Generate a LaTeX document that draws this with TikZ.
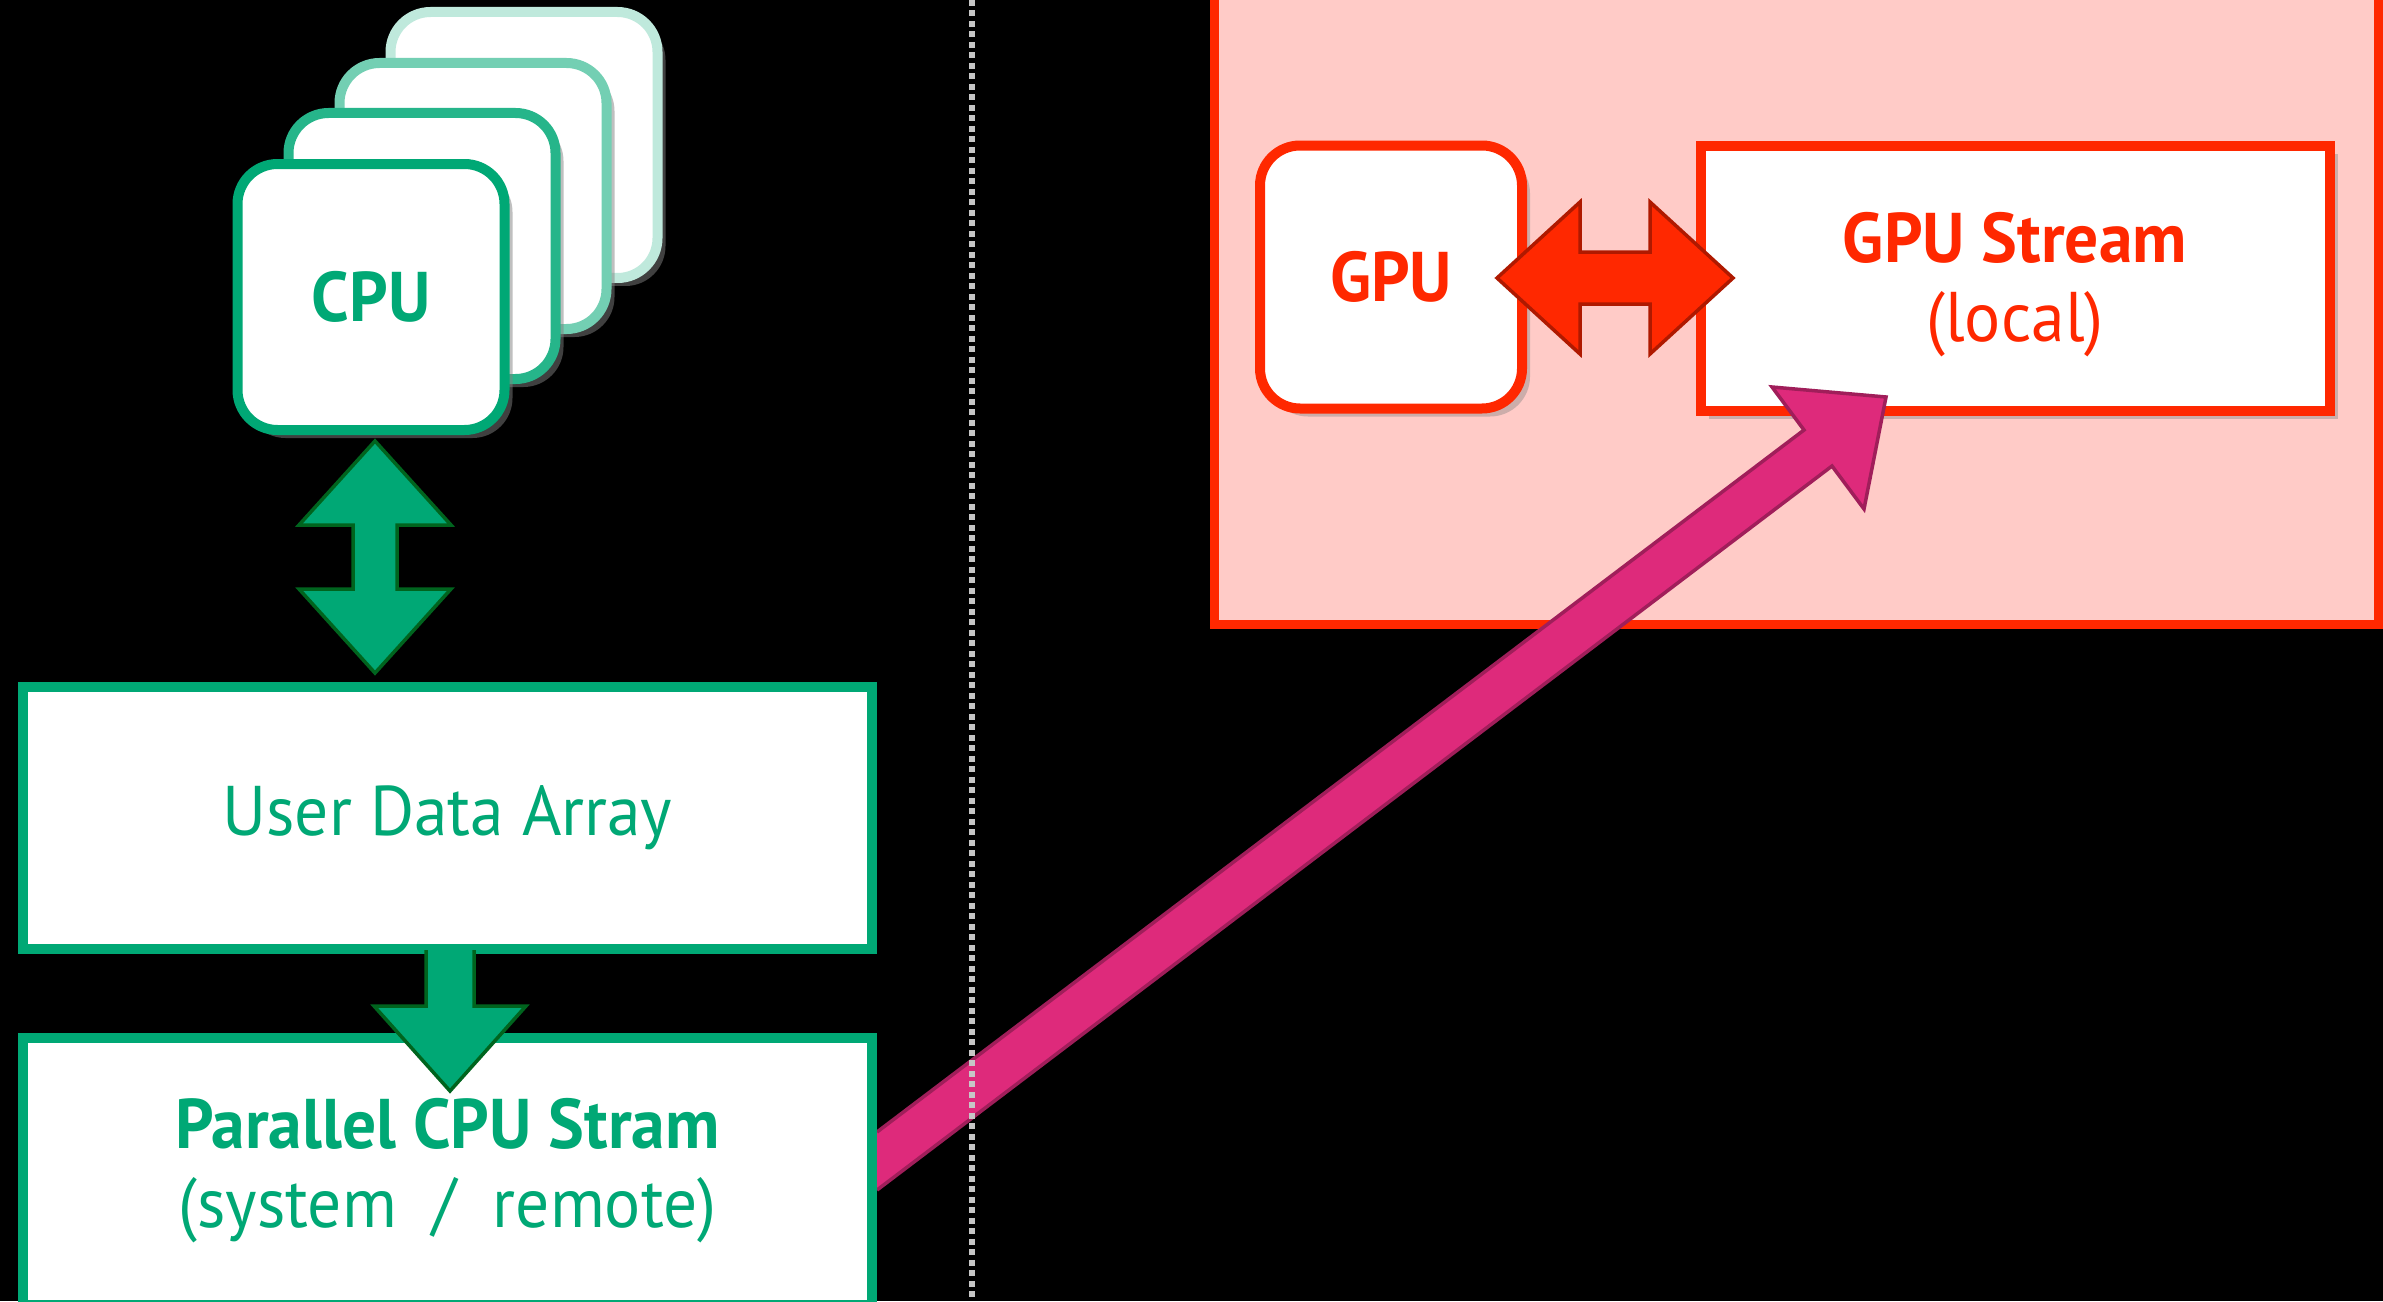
\documentclass[tikz,border=0pt]{standalone}
\usepackage{fontspec}
\setsansfont[FakeStretch=0.96]{PT Sans}
\renewcommand{\familydefault}{\sfdefault}
\usepackage{tikz}
\usetikzlibrary{positioning,calc,shadows}

\definecolor{cpugreen}{RGB}{0,168,117}
\definecolor{arrowgreen}{RGB}{0,100,30}
\definecolor{gpured}{RGB}{255,40,0}
\definecolor{reddark}{RGB}{175,25,0}
\definecolor{zonepink}{RGB}{255,203,199}
\definecolor{streampink}{RGB}{222,42,123}
\definecolor{streamedge}{RGB}{160,30,90}

\pgfdeclarelayer{back}
\pgfdeclarelayer{front}
\pgfsetlayers{back,main,front}

\begin{document}
\begin{tikzpicture}[
  x=0.1mm, y=-0.1mm,
  font=\fontsize{20}{22.5}\selectfont,
  cpubox/.style={draw=cpugreen, line width=1mm, fill=white, rounded corners=4mm,
                 minimum width=26.7mm, minimum height=26.6mm, text=cpugreen, font=\fontsize{20}{22.5}\selectfont\bfseries,
                 drop shadow={opacity=0.5, shadow xshift=0.8mm, shadow yshift=-0.8mm}},
  databox/.style={draw=cpugreen, line width=1mm, fill=white, minimum width=84.9mm,
                  minimum height=26.2mm, text=cpugreen, align=center},
  gpubox/.style={draw=gpured, line width=1mm, fill=white, text=gpured, align=center,
                 drop shadow={opacity=0.4, shadow xshift=0.8mm, shadow yshift=-0.8mm}},
  zone/.style={draw=gpured, line width=0.9mm, fill=zonepink, minimum width=116.4mm, minimum height=65.5mm},
  gblock/.style={fill=cpugreen, draw=arrowgreen, line width=0.35mm, line join=miter},
  rblock/.style={fill=gpured, draw=reddark, line width=0.35mm, line join=miter},
  pblock/.style={fill=streampink, draw=streamedge, line width=0.35mm, line join=miter},
  divider/.style={draw=gray!45, line width=0.55mm, dash pattern=on 0.6mm off 0.45mm},
]
\useasboundingbox (0,0) rectangle (2383,1301);
\begin{pgfonlayer}{back}
  \fill[black] (0,0) rectangle (2383,1301);
\end{pgfonlayer}

% host side
\begin{pgfonlayer}{front}
\node[cpubox, draw=cpugreen!25] (cpuD) at (524,145) {};
\node[cpubox, draw=cpugreen!55] (cpuC) at (473,196) {};
\node[cpubox, draw=cpugreen!85] (cpuB) at (422,246) {};
\node[cpubox] (cpu) at (371,297) {CPU};
\node[databox] (uda) at (447.5,818) {User Data Array};
\node[databox, minimum height=26.7mm] (par) at (447.5,1171) {\textbf{Parallel CPU Stram}\\(system\ \ /\ \ remote)};

\draw[gblock] ($(cpu.south)+(4,6)$) -- ++(76,84) -- ++(-54,0) -- ++(0,64) -- ++(54,0) -- ++(-76,84)
  -- ++(-76,-84) -- ++(54,0) -- ++(0,-64) -- ++(-54,0) -- cycle;
\draw[gblock] ($(uda.south)+(-21.5,-4)$) -- ++(0,56) -- ++(-52,0) -- ++(76,85) -- ++(76,-85) -- ++(-52,0) -- ++(0,-56);

\coordinate (divtop) at (972,0);
\coordinate (divbot) at (972,1301);
\draw[divider] (divtop) -- (divbot);
\end{pgfonlayer}

% device side
\node[zone] (gpuzone) at (1796.5,297) {};
\node[gpubox, rounded corners=4mm, minimum width=26.2mm, minimum height=26.3mm, font=\fontsize{20}{22.5}\selectfont\bfseries] (gpu) at (1391,277) {GPU};
\node[gpubox, minimum width=62.9mm, minimum height=26.5mm, text depth=0.3mm] (gstream) at (2015,278.5) {\textbf{GPU Stream}\\(local)};

\draw[rblock] ($(gpu.east)+(-30,1)$) -- ++(83,-76) -- ++(0,50) -- ++(70,0) -- ++(0,-50) -- ++(83,76)
  -- ++(-83,76) -- ++(0,-50) -- ++(-70,0) -- ++(0,50) -- cycle;

\draw[pblock] ($(par.east)+(0,-39)$) -- ++(927,-702) -- ++(-32,-43) -- ++(114,10) -- ++(-22,112)
  -- ++(-32,-43) -- ++(-955,724);
\end{tikzpicture}
\end{document}
